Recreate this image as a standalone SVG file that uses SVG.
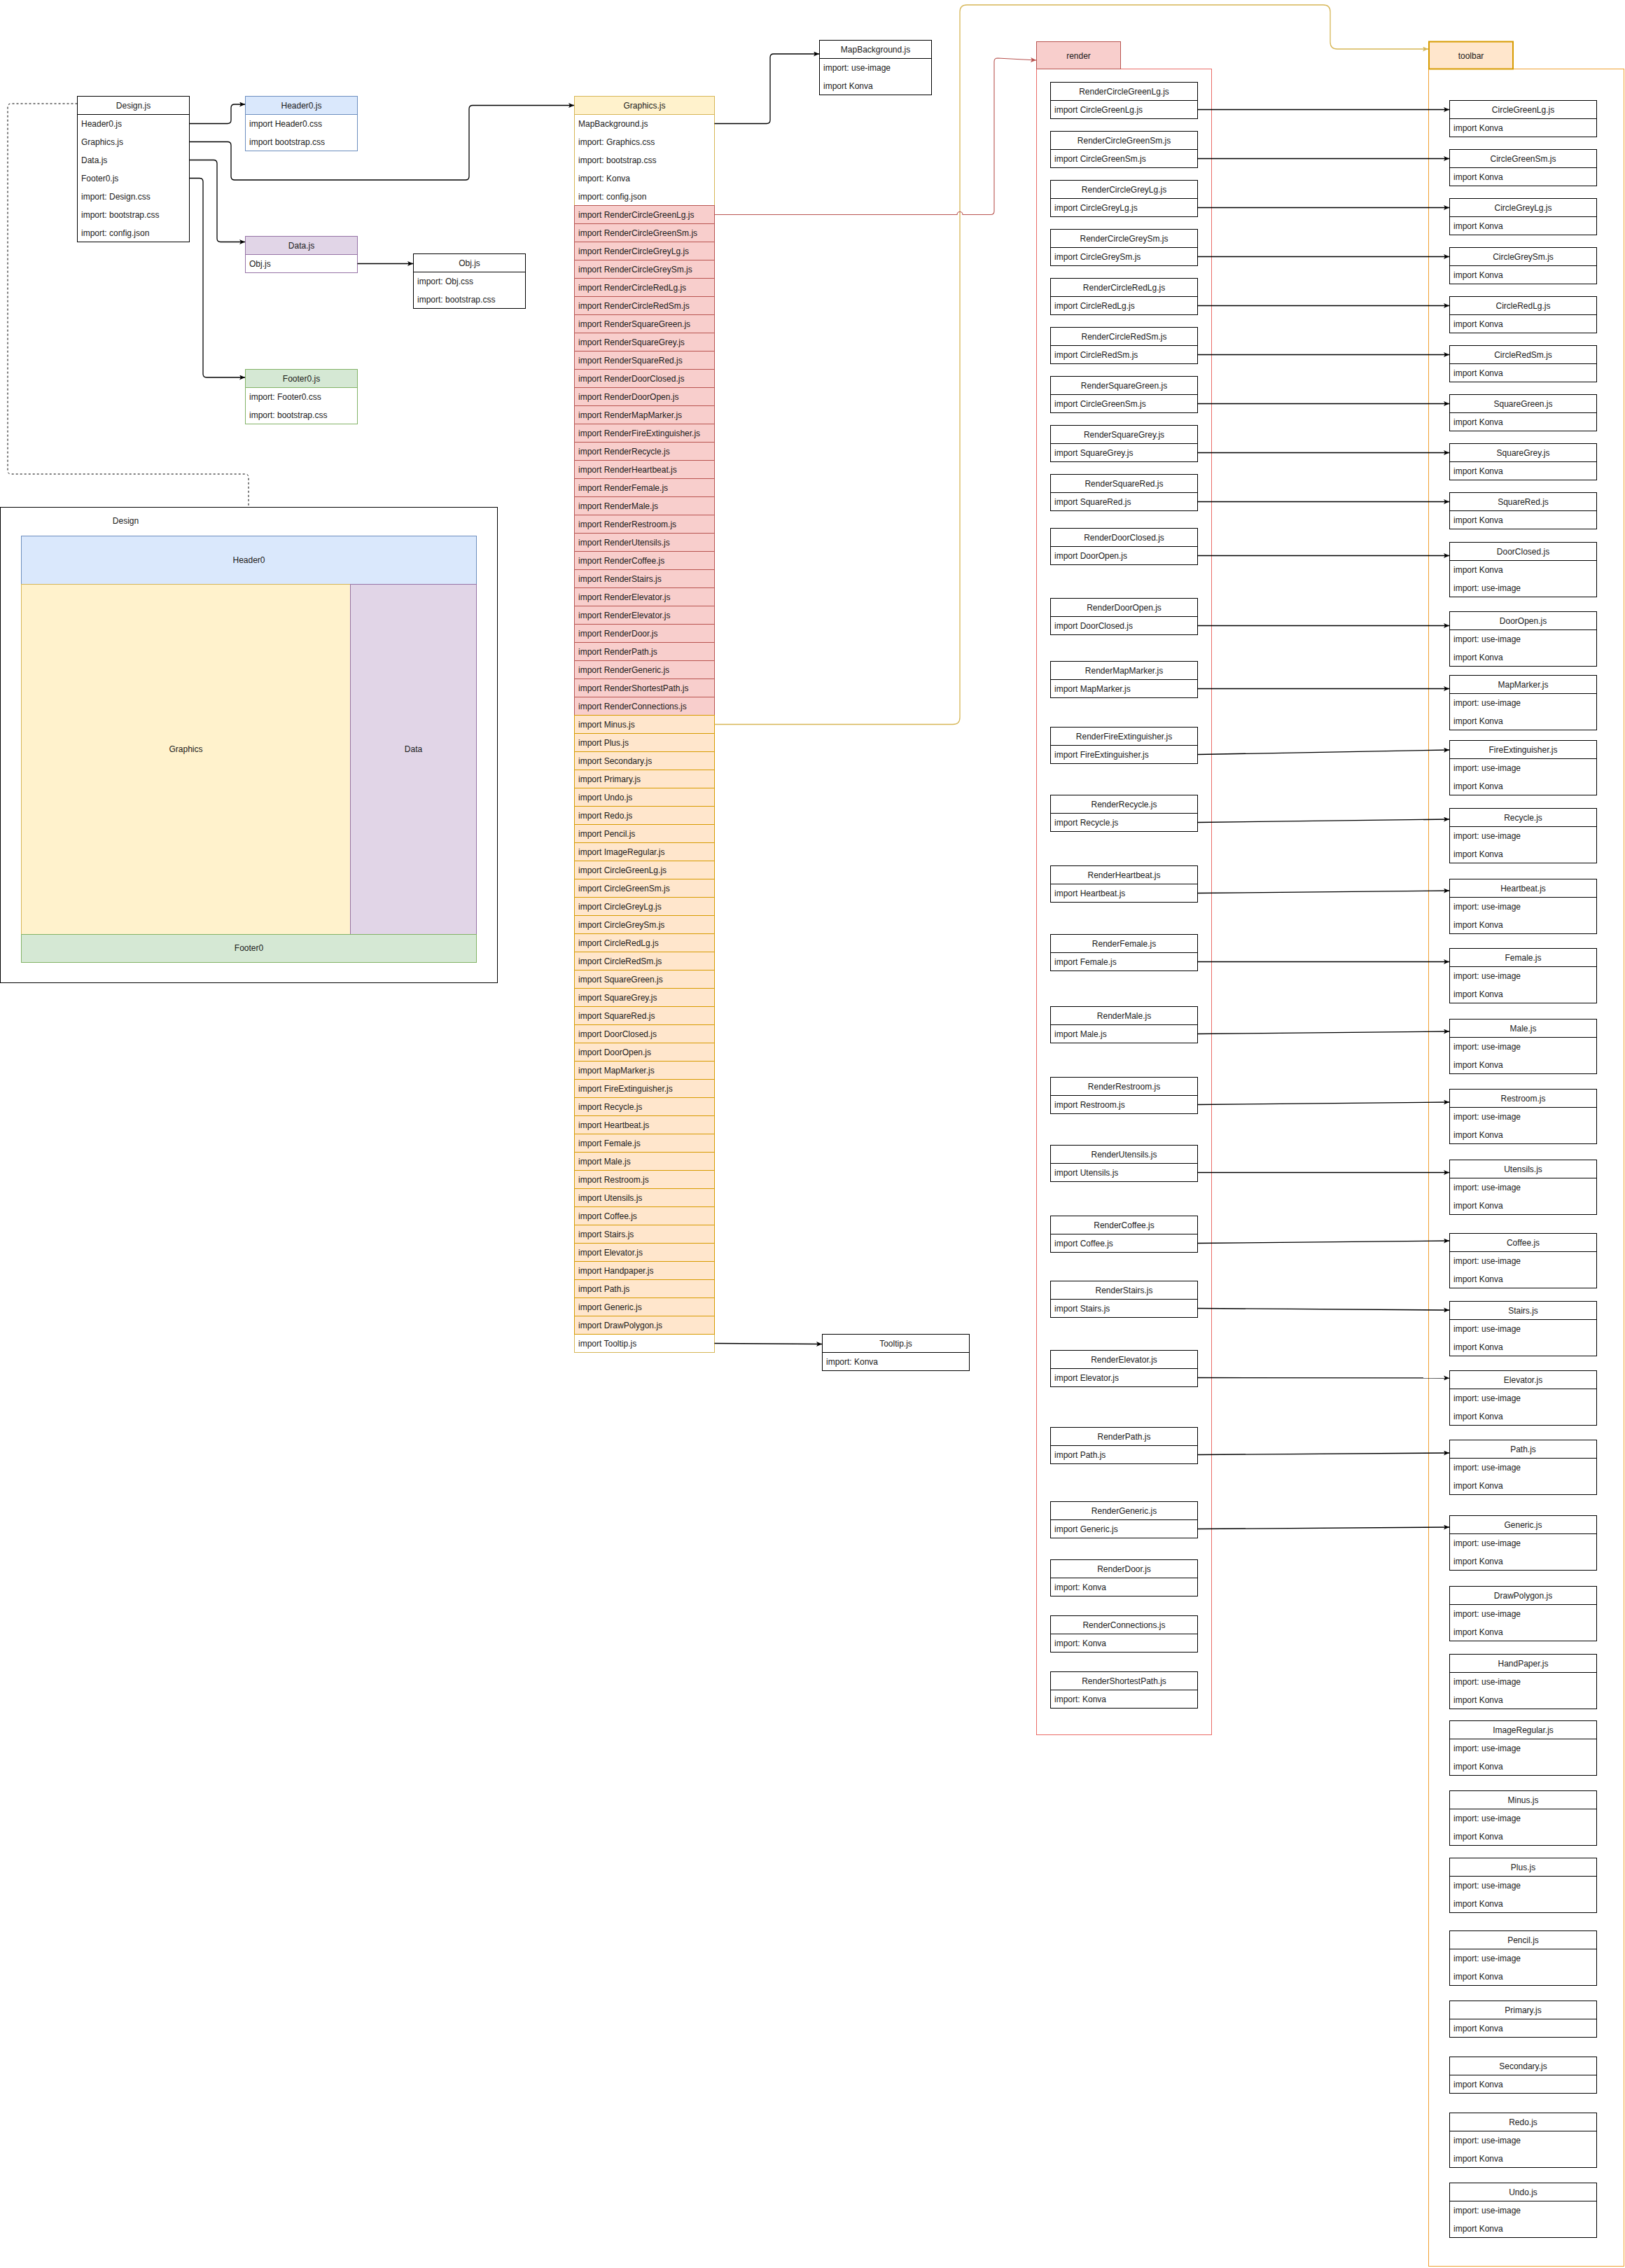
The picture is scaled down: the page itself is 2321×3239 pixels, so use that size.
<svg xmlns="http://www.w3.org/2000/svg" width="2321" height="3239" viewBox="0 0 2321 3239">
<style>
text{font-family:"Liberation Sans",Arial,sans-serif;font-size:12px;fill:#1a1a1a}
.m{text-anchor:middle}
.b{fill:#fff;stroke:#000;stroke-width:1}
.l{stroke:#000;stroke-width:1}
.rr{fill:#f8cecc;stroke:#b85450;stroke-width:1}
.ro{fill:#ffe6cc;stroke:#d79b00;stroke-width:1}
.e{fill:none;stroke:#000;stroke-width:1.3}
.ey{fill:none;stroke:#d6b656;stroke-width:1.3}
.er{fill:none;stroke:#b85450;stroke-width:1.1}
.ed{fill:none;stroke:#000;stroke-width:1;stroke-dasharray:3 3}
</style>
<defs>
<marker id="ak" viewBox="0 0 8 7" refX="8" refY="3.5" markerWidth="8" markerHeight="7" markerUnits="userSpaceOnUse" orient="auto"><path d="M0,0 L8,3.5 L0,7 L2,3.5 Z" fill="#000"/></marker>
<marker id="ar" viewBox="0 0 8 7" refX="8" refY="3.5" markerWidth="8" markerHeight="7" markerUnits="userSpaceOnUse" orient="auto"><path d="M0,0 L8,3.5 L0,7 L2,3.5 Z" fill="#b85450"/></marker>
<marker id="ay" viewBox="0 0 8 7" refX="8" refY="3.5" markerWidth="8" markerHeight="7" markerUnits="userSpaceOnUse" orient="auto"><path d="M0,0 L8,3.5 L0,7 L2,3.5 Z" fill="#d6b656"/></marker>
</defs>
<rect width="2321" height="3239" fill="#fff"/>

<!-- containers -->
<g id="render-container">
<rect x="1480.5" y="98.5" width="250" height="2379" fill="none" stroke="#ea6b66"/>
<rect x="1480.5" y="59.5" width="120" height="39" class="rr"/>
<text class="m" x="1540.5" y="83.5">render</text>
</g>
<g id="toolbar-container">
<rect x="2040.5" y="98.5" width="279" height="3138" fill="none" stroke="#f0a030"/>
<rect x="2041" y="59.5" width="120" height="39" fill="#ffe6cc" stroke="#d79b00" stroke-width="2"/>
<text class="m" x="2101" y="83.5">toolbar</text>
</g>

<!-- Design layout -->
<g id="design-layout">
<rect x="0.5" y="724.5" width="710" height="679" class="b"/>
<text class="m" x="179.5" y="748">Design</text>
<rect x="30.5" y="765.5" width="650" height="69" fill="#dae8fc" stroke="#6c8ebf"/>
<text class="m" x="355.5" y="804">Header0</text>
<rect x="30.5" y="834.5" width="470" height="500" fill="#fff2cc" stroke="#d6b656"/>
<text class="m" x="265.5" y="1074">Graphics</text>
<rect x="500.5" y="834.5" width="180" height="500" fill="#e1d5e7" stroke="#9673a6"/>
<text class="m" x="590.5" y="1074">Data</text>
<rect x="30.5" y="1334.5" width="650" height="40" fill="#d5e8d4" stroke="#82b366"/>
<text class="m" x="355.5" y="1358">Footer0</text>
</g>

<!-- Design.js -->
<g id="design-js">
<rect x="110.5" y="137.5" width="160" height="208" class="b"/>
<line x1="110.5" y1="163.5" x2="270.5" y2="163.5" class="l"/>
<text class="m" x="190.5" y="154.5">Design.js</text>
<text x="116" y="180.5">Header0.js</text>
<text x="116" y="206.5">Graphics.js</text>
<text x="116" y="232.5">Data.js</text>
<text x="116" y="258.5">Footer0.js</text>
<text x="116" y="284.5">import: Design.css</text>
<text x="116" y="310.5">import: bootstrap.css</text>
<text x="116" y="336.5">import: config.json</text>
</g>
<g id="header0-js">
<rect x="350.5" y="137.5" width="160" height="78" fill="#fff" stroke="#6c8ebf"/>
<rect x="350.5" y="137.5" width="160" height="26" fill="#dae8fc" stroke="#6c8ebf"/>
<text class="m" x="430.5" y="154.5">Header0.js</text>
<text x="356" y="180.5">import Header0.css</text>
<text x="356" y="206.5">import bootstrap.css</text>
</g>
<g id="data-js">
<rect x="350.5" y="337.5" width="160" height="52" fill="#fff" stroke="#9673a6"/>
<rect x="350.5" y="337.5" width="160" height="26" fill="#e1d5e7" stroke="#9673a6"/>
<text class="m" x="430.5" y="354.5">Data.js</text>
<text x="356" y="380.5">Obj.js</text>
</g>
<g id="obj-js">
<rect x="590.5" y="362.5" width="160" height="78" class="b"/>
<line x1="590.5" y1="388.5" x2="750.5" y2="388.5" class="l"/>
<text class="m" x="670.5" y="379.5">Obj.js</text>
<text x="596" y="405.5">import: Obj.css</text>
<text x="596" y="431.5">import: bootstrap.css</text>
</g>
<g id="footer0-js">
<rect x="350.5" y="527.5" width="160" height="78" fill="#fff" stroke="#82b366"/>
<rect x="350.5" y="527.5" width="160" height="26" fill="#d5e8d4" stroke="#82b366"/>
<text class="m" x="430.5" y="544.5">Footer0.js</text>
<text x="356" y="570.5">import: Footer0.css</text>
<text x="356" y="596.5">import: bootstrap.css</text>
</g>
<g id="mapbackground-js">
<rect x="1170.5" y="57.5" width="160" height="78" class="b"/>
<line x1="1170.5" y1="83.5" x2="1330.5" y2="83.5" class="l"/>
<text class="m" x="1250.5" y="74.5">MapBackground.js</text>
<text x="1176" y="100.5">import: use-image</text>
<text x="1176" y="126.5">import Konva</text>
</g>
<g id="tooltip-js">
<rect x="1174.5" y="1905.5" width="210" height="52" class="b"/>
<line x1="1174.5" y1="1931.5" x2="1384.5" y2="1931.5" class="l"/>
<text class="m" x="1279.5" y="1922.5">Tooltip.js</text>
<text x="1180" y="1948.5">import: Konva</text>
</g>

<!-- Graphics.js -->
<g id="graphics-js">
<rect x="820.5" y="137.5" width="200" height="1794" fill="#fff" stroke="#d6b656"/>
<rect x="820.5" y="137.5" width="200" height="26" fill="#fff2cc" stroke="#d6b656"/>
<text class="m" x="920.5" y="154.5">Graphics.js</text>
<text x="826" y="180.5">MapBackground.js</text>
<text x="826" y="206.5">import: Graphics.css</text>
<text x="826" y="232.5">import: bootstrap.css</text>
<text x="826" y="258.5">import: Konva</text>
<text x="826" y="284.5">import: config.json</text>
<g>
<rect x="820.5" y="293.5" width="200" height="26" class="rr"/><text x="826" y="310.5">import RenderCircleGreenLg.js</text>
<rect x="820.5" y="319.5" width="200" height="26" class="rr"/><text x="826" y="336.5">import RenderCircleGreenSm.js</text>
<rect x="820.5" y="345.5" width="200" height="26" class="rr"/><text x="826" y="362.5">import RenderCircleGreyLg.js</text>
<rect x="820.5" y="371.5" width="200" height="26" class="rr"/><text x="826" y="388.5">import RenderCircleGreySm.js</text>
<rect x="820.5" y="397.5" width="200" height="26" class="rr"/><text x="826" y="414.5">import RenderCircleRedLg.js</text>
<rect x="820.5" y="423.5" width="200" height="26" class="rr"/><text x="826" y="440.5">import RenderCircleRedSm.js</text>
<rect x="820.5" y="449.5" width="200" height="26" class="rr"/><text x="826" y="466.5">import RenderSquareGreen.js</text>
<rect x="820.5" y="475.5" width="200" height="26" class="rr"/><text x="826" y="492.5">import RenderSquareGrey.js</text>
<rect x="820.5" y="501.5" width="200" height="26" class="rr"/><text x="826" y="518.5">import RenderSquareRed.js</text>
<rect x="820.5" y="527.5" width="200" height="26" class="rr"/><text x="826" y="544.5">import RenderDoorClosed.js</text>
<rect x="820.5" y="553.5" width="200" height="26" class="rr"/><text x="826" y="570.5">import RenderDoorOpen.js</text>
<rect x="820.5" y="579.5" width="200" height="26" class="rr"/><text x="826" y="596.5">import RenderMapMarker.js</text>
<rect x="820.5" y="605.5" width="200" height="26" class="rr"/><text x="826" y="622.5">import RenderFireExtinguisher.js</text>
<rect x="820.5" y="631.5" width="200" height="26" class="rr"/><text x="826" y="648.5">import RenderRecycle.js</text>
<rect x="820.5" y="657.5" width="200" height="26" class="rr"/><text x="826" y="674.5">import RenderHeartbeat.js</text>
<rect x="820.5" y="683.5" width="200" height="26" class="rr"/><text x="826" y="700.5">import RenderFemale.js</text>
<rect x="820.5" y="709.5" width="200" height="26" class="rr"/><text x="826" y="726.5">import RenderMale.js</text>
<rect x="820.5" y="735.5" width="200" height="26" class="rr"/><text x="826" y="752.5">import RenderRestroom.js</text>
<rect x="820.5" y="761.5" width="200" height="26" class="rr"/><text x="826" y="778.5">import RenderUtensils.js</text>
<rect x="820.5" y="787.5" width="200" height="26" class="rr"/><text x="826" y="804.5">import RenderCoffee.js</text>
<rect x="820.5" y="813.5" width="200" height="26" class="rr"/><text x="826" y="830.5">import RenderStairs.js</text>
<rect x="820.5" y="839.5" width="200" height="26" class="rr"/><text x="826" y="856.5">import RenderElevator.js</text>
<rect x="820.5" y="865.5" width="200" height="26" class="rr"/><text x="826" y="882.5">import RenderElevator.js</text>
<rect x="820.5" y="891.5" width="200" height="26" class="rr"/><text x="826" y="908.5">import RenderDoor.js</text>
<rect x="820.5" y="917.5" width="200" height="26" class="rr"/><text x="826" y="934.5">import RenderPath.js</text>
<rect x="820.5" y="943.5" width="200" height="26" class="rr"/><text x="826" y="960.5">import RenderGeneric.js</text>
<rect x="820.5" y="969.5" width="200" height="26" class="rr"/><text x="826" y="986.5">import RenderShortestPath.js</text>
<rect x="820.5" y="995.5" width="200" height="26" class="rr"/><text x="826" y="1012.5">import RenderConnections.js</text>
</g>
<g>
<rect x="820.5" y="1021.5" width="200" height="26" class="ro"/><text x="826" y="1038.5">import Minus.js</text>
<rect x="820.5" y="1047.5" width="200" height="26" class="ro"/><text x="826" y="1064.5">import Plus.js</text>
<rect x="820.5" y="1073.5" width="200" height="26" class="ro"/><text x="826" y="1090.5">import Secondary.js</text>
<rect x="820.5" y="1099.5" width="200" height="26" class="ro"/><text x="826" y="1116.5">import Primary.js</text>
<rect x="820.5" y="1125.5" width="200" height="26" class="ro"/><text x="826" y="1142.5">import Undo.js</text>
<rect x="820.5" y="1151.5" width="200" height="26" class="ro"/><text x="826" y="1168.5">import Redo.js</text>
<rect x="820.5" y="1177.5" width="200" height="26" class="ro"/><text x="826" y="1194.5">import Pencil.js</text>
<rect x="820.5" y="1203.5" width="200" height="26" class="ro"/><text x="826" y="1220.5">import ImageRegular.js</text>
<rect x="820.5" y="1229.5" width="200" height="26" class="ro"/><text x="826" y="1246.5">import CircleGreenLg.js</text>
<rect x="820.5" y="1255.5" width="200" height="26" class="ro"/><text x="826" y="1272.5">import CircleGreenSm.js</text>
<rect x="820.5" y="1281.5" width="200" height="26" class="ro"/><text x="826" y="1298.5">import CircleGreyLg.js</text>
<rect x="820.5" y="1307.5" width="200" height="26" class="ro"/><text x="826" y="1324.5">import CircleGreySm.js</text>
<rect x="820.5" y="1333.5" width="200" height="26" class="ro"/><text x="826" y="1350.5">import CircleRedLg.js</text>
<rect x="820.5" y="1359.5" width="200" height="26" class="ro"/><text x="826" y="1376.5">import CircleRedSm.js</text>
<rect x="820.5" y="1385.5" width="200" height="26" class="ro"/><text x="826" y="1402.5">import SquareGreen.js</text>
<rect x="820.5" y="1411.5" width="200" height="26" class="ro"/><text x="826" y="1428.5">import SquareGrey.js</text>
<rect x="820.5" y="1437.5" width="200" height="26" class="ro"/><text x="826" y="1454.5">import SquareRed.js</text>
<rect x="820.5" y="1463.5" width="200" height="26" class="ro"/><text x="826" y="1480.5">import DoorClosed.js</text>
<rect x="820.5" y="1489.5" width="200" height="26" class="ro"/><text x="826" y="1506.5">import DoorOpen.js</text>
<rect x="820.5" y="1515.5" width="200" height="26" class="ro"/><text x="826" y="1532.5">import MapMarker.js</text>
<rect x="820.5" y="1541.5" width="200" height="26" class="ro"/><text x="826" y="1558.5">import FireExtinguisher.js</text>
<rect x="820.5" y="1567.5" width="200" height="26" class="ro"/><text x="826" y="1584.5">import Recycle.js</text>
<rect x="820.5" y="1593.5" width="200" height="26" class="ro"/><text x="826" y="1610.5">import Heartbeat.js</text>
<rect x="820.5" y="1619.5" width="200" height="26" class="ro"/><text x="826" y="1636.5">import Female.js</text>
<rect x="820.5" y="1645.5" width="200" height="26" class="ro"/><text x="826" y="1662.5">import Male.js</text>
<rect x="820.5" y="1671.5" width="200" height="26" class="ro"/><text x="826" y="1688.5">import Restroom.js</text>
<rect x="820.5" y="1697.5" width="200" height="26" class="ro"/><text x="826" y="1714.5">import Utensils.js</text>
<rect x="820.5" y="1723.5" width="200" height="26" class="ro"/><text x="826" y="1740.5">import Coffee.js</text>
<rect x="820.5" y="1749.5" width="200" height="26" class="ro"/><text x="826" y="1766.5">import Stairs.js</text>
<rect x="820.5" y="1775.5" width="200" height="26" class="ro"/><text x="826" y="1792.5">import Elevator.js</text>
<rect x="820.5" y="1801.5" width="200" height="26" class="ro"/><text x="826" y="1818.5">import Handpaper.js</text>
<rect x="820.5" y="1827.5" width="200" height="26" class="ro"/><text x="826" y="1844.5">import Path.js</text>
<rect x="820.5" y="1853.5" width="200" height="26" class="ro"/><text x="826" y="1870.5">import Generic.js</text>
<rect x="820.5" y="1879.5" width="200" height="26" class="ro"/><text x="826" y="1896.5">import DrawPolygon.js</text>
</g>
<text x="826" y="1922.5">import Tooltip.js</text>
</g>

<!-- render boxes -->
<g id="render-nodes">
<g id="r1"><rect x="1500.5" y="117.5" width="210" height="52" class="b"/><line x1="1500.5" y1="143.5" x2="1710.5" y2="143.5" class="l"/><text class="m" x="1605.5" y="134.5">RenderCircleGreenLg.js</text><text x="1506" y="160.5">import CircleGreenLg.js</text></g>
<g id="r2"><rect x="1500.5" y="187.5" width="210" height="52" class="b"/><line x1="1500.5" y1="213.5" x2="1710.5" y2="213.5" class="l"/><text class="m" x="1605.5" y="204.5">RenderCircleGreenSm.js</text><text x="1506" y="230.5">import CircleGreenSm.js</text></g>
<g id="r3"><rect x="1500.5" y="257.5" width="210" height="52" class="b"/><line x1="1500.5" y1="283.5" x2="1710.5" y2="283.5" class="l"/><text class="m" x="1605.5" y="274.5">RenderCircleGreyLg.js</text><text x="1506" y="300.5">import CircleGreyLg.js</text></g>
<g id="r4"><rect x="1500.5" y="327.5" width="210" height="52" class="b"/><line x1="1500.5" y1="353.5" x2="1710.5" y2="353.5" class="l"/><text class="m" x="1605.5" y="344.5">RenderCircleGreySm.js</text><text x="1506" y="370.5">import CircleGreySm.js</text></g>
<g id="r5"><rect x="1500.5" y="397.5" width="210" height="52" class="b"/><line x1="1500.5" y1="423.5" x2="1710.5" y2="423.5" class="l"/><text class="m" x="1605.5" y="414.5">RenderCircleRedLg.js</text><text x="1506" y="440.5">import CircleRedLg.js</text></g>
<g id="r6"><rect x="1500.5" y="467.5" width="210" height="52" class="b"/><line x1="1500.5" y1="493.5" x2="1710.5" y2="493.5" class="l"/><text class="m" x="1605.5" y="484.5">RenderCircleRedSm.js</text><text x="1506" y="510.5">import CircleRedSm.js</text></g>
<g id="r7"><rect x="1500.5" y="537.5" width="210" height="52" class="b"/><line x1="1500.5" y1="563.5" x2="1710.5" y2="563.5" class="l"/><text class="m" x="1605.5" y="554.5">RenderSquareGreen.js</text><text x="1506" y="580.5">import CircleGreenSm.js</text></g>
<g id="r8"><rect x="1500.5" y="607.5" width="210" height="52" class="b"/><line x1="1500.5" y1="633.5" x2="1710.5" y2="633.5" class="l"/><text class="m" x="1605.5" y="624.5">RenderSquareGrey.js</text><text x="1506" y="650.5">import SquareGrey.js</text></g>
<g id="r9"><rect x="1500.5" y="677.5" width="210" height="52" class="b"/><line x1="1500.5" y1="703.5" x2="1710.5" y2="703.5" class="l"/><text class="m" x="1605.5" y="694.5">RenderSquareRed.js</text><text x="1506" y="720.5">import SquareRed.js</text></g>
<g id="r10"><rect x="1500.5" y="754.5" width="210" height="52" class="b"/><line x1="1500.5" y1="780.5" x2="1710.5" y2="780.5" class="l"/><text class="m" x="1605.5" y="771.5">RenderDoorClosed.js</text><text x="1506" y="797.5">import DoorOpen.js</text></g>
<g id="r11"><rect x="1500.5" y="854.5" width="210" height="52" class="b"/><line x1="1500.5" y1="880.5" x2="1710.5" y2="880.5" class="l"/><text class="m" x="1605.5" y="871.5">RenderDoorOpen.js</text><text x="1506" y="897.5">import DoorClosed.js</text></g>
<g id="r12"><rect x="1500.5" y="944.5" width="210" height="52" class="b"/><line x1="1500.5" y1="970.5" x2="1710.5" y2="970.5" class="l"/><text class="m" x="1605.5" y="961.5">RenderMapMarker.js</text><text x="1506" y="987.5">import MapMarker.js</text></g>
<g id="r13"><rect x="1500.5" y="1038.5" width="210" height="52" class="b"/><line x1="1500.5" y1="1064.5" x2="1710.5" y2="1064.5" class="l"/><text class="m" x="1605.5" y="1055.5">RenderFireExtinguisher.js</text><text x="1506" y="1081.5">import FireExtinguisher.js</text></g>
<g id="r14"><rect x="1500.5" y="1135.5" width="210" height="52" class="b"/><line x1="1500.5" y1="1161.5" x2="1710.5" y2="1161.5" class="l"/><text class="m" x="1605.5" y="1152.5">RenderRecycle.js</text><text x="1506" y="1178.5">import Recycle.js</text></g>
<g id="r15"><rect x="1500.5" y="1236.5" width="210" height="52" class="b"/><line x1="1500.5" y1="1262.5" x2="1710.5" y2="1262.5" class="l"/><text class="m" x="1605.5" y="1253.5">RenderHeartbeat.js</text><text x="1506" y="1279.5">import Heartbeat.js</text></g>
<g id="r16"><rect x="1500.5" y="1334.5" width="210" height="52" class="b"/><line x1="1500.5" y1="1360.5" x2="1710.5" y2="1360.5" class="l"/><text class="m" x="1605.5" y="1351.5">RenderFemale.js</text><text x="1506" y="1377.5">import Female.js</text></g>
<g id="r17"><rect x="1500.5" y="1437.5" width="210" height="52" class="b"/><line x1="1500.5" y1="1463.5" x2="1710.5" y2="1463.5" class="l"/><text class="m" x="1605.5" y="1454.5">RenderMale.js</text><text x="1506" y="1480.5">import Male.js</text></g>
<g id="r18"><rect x="1500.5" y="1538.5" width="210" height="52" class="b"/><line x1="1500.5" y1="1564.5" x2="1710.5" y2="1564.5" class="l"/><text class="m" x="1605.5" y="1555.5">RenderRestroom.js</text><text x="1506" y="1581.5">import Restroom.js</text></g>
<g id="r19"><rect x="1500.5" y="1635.5" width="210" height="52" class="b"/><line x1="1500.5" y1="1661.5" x2="1710.5" y2="1661.5" class="l"/><text class="m" x="1605.5" y="1652.5">RenderUtensils.js</text><text x="1506" y="1678.5">import Utensils.js</text></g>
<g id="r20"><rect x="1500.5" y="1736.5" width="210" height="52" class="b"/><line x1="1500.5" y1="1762.5" x2="1710.5" y2="1762.5" class="l"/><text class="m" x="1605.5" y="1753.5">RenderCoffee.js</text><text x="1506" y="1779.5">import Coffee.js</text></g>
<g id="r21"><rect x="1500.5" y="1829.5" width="210" height="52" class="b"/><line x1="1500.5" y1="1855.5" x2="1710.5" y2="1855.5" class="l"/><text class="m" x="1605.5" y="1846.5">RenderStairs.js</text><text x="1506" y="1872.5">import Stairs.js</text></g>
<g id="r22"><rect x="1500.5" y="1928.5" width="210" height="52" class="b"/><line x1="1500.5" y1="1954.5" x2="1710.5" y2="1954.5" class="l"/><text class="m" x="1605.5" y="1945.5">RenderElevator.js</text><text x="1506" y="1971.5">import Elevator.js</text></g>
<g id="r23"><rect x="1500.5" y="2038.5" width="210" height="52" class="b"/><line x1="1500.5" y1="2064.5" x2="1710.5" y2="2064.5" class="l"/><text class="m" x="1605.5" y="2055.5">RenderPath.js</text><text x="1506" y="2081.5">import Path.js</text></g>
<g id="r24"><rect x="1500.5" y="2144.5" width="210" height="52" class="b"/><line x1="1500.5" y1="2170.5" x2="1710.5" y2="2170.5" class="l"/><text class="m" x="1605.5" y="2161.5">RenderGeneric.js</text><text x="1506" y="2187.5">import Generic.js</text></g>
<g id="r25"><rect x="1500.5" y="2227.5" width="210" height="52" class="b"/><line x1="1500.5" y1="2253.5" x2="1710.5" y2="2253.5" class="l"/><text class="m" x="1605.5" y="2244.5">RenderDoor.js</text><text x="1506" y="2270.5">import: Konva</text></g>
<g id="r26"><rect x="1500.5" y="2307.5" width="210" height="52" class="b"/><line x1="1500.5" y1="2333.5" x2="1710.5" y2="2333.5" class="l"/><text class="m" x="1605.5" y="2324.5">RenderConnections.js</text><text x="1506" y="2350.5">import: Konva</text></g>
<g id="r27"><rect x="1500.5" y="2387.5" width="210" height="52" class="b"/><line x1="1500.5" y1="2413.5" x2="1710.5" y2="2413.5" class="l"/><text class="m" x="1605.5" y="2404.5">RenderShortestPath.js</text><text x="1506" y="2430.5">import: Konva</text></g>
</g>

<!-- toolbar boxes -->
<g id="toolbar-nodes">
<g id="t1"><rect x="2070.5" y="143.5" width="210" height="52" class="b"/><line x1="2070.5" y1="169.5" x2="2280.5" y2="169.5" class="l"/><text class="m" x="2175.5" y="160.5">CircleGreenLg.js</text><text x="2076" y="186.5">import Konva</text></g>
<g id="t2"><rect x="2070.5" y="213.5" width="210" height="52" class="b"/><line x1="2070.5" y1="239.5" x2="2280.5" y2="239.5" class="l"/><text class="m" x="2175.5" y="230.5">CircleGreenSm.js</text><text x="2076" y="256.5">import Konva</text></g>
<g id="t3"><rect x="2070.5" y="283.5" width="210" height="52" class="b"/><line x1="2070.5" y1="309.5" x2="2280.5" y2="309.5" class="l"/><text class="m" x="2175.5" y="300.5">CircleGreyLg.js</text><text x="2076" y="326.5">import Konva</text></g>
<g id="t4"><rect x="2070.5" y="353.5" width="210" height="52" class="b"/><line x1="2070.5" y1="379.5" x2="2280.5" y2="379.5" class="l"/><text class="m" x="2175.5" y="370.5">CircleGreySm.js</text><text x="2076" y="396.5">import Konva</text></g>
<g id="t5"><rect x="2070.5" y="423.5" width="210" height="52" class="b"/><line x1="2070.5" y1="449.5" x2="2280.5" y2="449.5" class="l"/><text class="m" x="2175.5" y="440.5">CircleRedLg.js</text><text x="2076" y="466.5">import Konva</text></g>
<g id="t6"><rect x="2070.5" y="493.5" width="210" height="52" class="b"/><line x1="2070.5" y1="519.5" x2="2280.5" y2="519.5" class="l"/><text class="m" x="2175.5" y="510.5">CircleRedSm.js</text><text x="2076" y="536.5">import Konva</text></g>
<g id="t7"><rect x="2070.5" y="563.5" width="210" height="52" class="b"/><line x1="2070.5" y1="589.5" x2="2280.5" y2="589.5" class="l"/><text class="m" x="2175.5" y="580.5">SquareGreen.js</text><text x="2076" y="606.5">import Konva</text></g>
<g id="t8"><rect x="2070.5" y="633.5" width="210" height="52" class="b"/><line x1="2070.5" y1="659.5" x2="2280.5" y2="659.5" class="l"/><text class="m" x="2175.5" y="650.5">SquareGrey.js</text><text x="2076" y="676.5">import Konva</text></g>
<g id="t9"><rect x="2070.5" y="703.5" width="210" height="52" class="b"/><line x1="2070.5" y1="729.5" x2="2280.5" y2="729.5" class="l"/><text class="m" x="2175.5" y="720.5">SquareRed.js</text><text x="2076" y="746.5">import Konva</text></g>
<g id="t10"><rect x="2070.5" y="774.5" width="210" height="78" class="b"/><line x1="2070.5" y1="800.5" x2="2280.5" y2="800.5" class="l"/><text class="m" x="2175.5" y="791.5">DoorClosed.js</text><text x="2076" y="817.5">import Konva</text><text x="2076" y="843.5">import: use-image</text></g>
<g id="t11"><rect x="2070.5" y="873.5" width="210" height="78" class="b"/><line x1="2070.5" y1="899.5" x2="2280.5" y2="899.5" class="l"/><text class="m" x="2175.5" y="890.5">DoorOpen.js</text><text x="2076" y="916.5">import: use-image</text><text x="2076" y="942.5">import Konva</text></g>
<g id="t12"><rect x="2070.5" y="964.5" width="210" height="78" class="b"/><line x1="2070.5" y1="990.5" x2="2280.5" y2="990.5" class="l"/><text class="m" x="2175.5" y="981.5">MapMarker.js</text><text x="2076" y="1007.5">import: use-image</text><text x="2076" y="1033.5">import Konva</text></g>
<g id="t13"><rect x="2070.5" y="1057.5" width="210" height="78" class="b"/><line x1="2070.5" y1="1083.5" x2="2280.5" y2="1083.5" class="l"/><text class="m" x="2175.5" y="1074.5">FireExtinguisher.js</text><text x="2076" y="1100.5">import: use-image</text><text x="2076" y="1126.5">import Konva</text></g>
<g id="t14"><rect x="2070.5" y="1154.5" width="210" height="78" class="b"/><line x1="2070.5" y1="1180.5" x2="2280.5" y2="1180.5" class="l"/><text class="m" x="2175.5" y="1171.5">Recycle.js</text><text x="2076" y="1197.5">import: use-image</text><text x="2076" y="1223.5">import Konva</text></g>
<g id="t15"><rect x="2070.5" y="1255.5" width="210" height="78" class="b"/><line x1="2070.5" y1="1281.5" x2="2280.5" y2="1281.5" class="l"/><text class="m" x="2175.5" y="1272.5">Heartbeat.js</text><text x="2076" y="1298.5">import: use-image</text><text x="2076" y="1324.5">import Konva</text></g>
<g id="t16"><rect x="2070.5" y="1354.5" width="210" height="78" class="b"/><line x1="2070.5" y1="1380.5" x2="2280.5" y2="1380.5" class="l"/><text class="m" x="2175.5" y="1371.5">Female.js</text><text x="2076" y="1397.5">import: use-image</text><text x="2076" y="1423.5">import Konva</text></g>
<g id="t17"><rect x="2070.5" y="1455.5" width="210" height="78" class="b"/><line x1="2070.5" y1="1481.5" x2="2280.5" y2="1481.5" class="l"/><text class="m" x="2175.5" y="1472.5">Male.js</text><text x="2076" y="1498.5">import: use-image</text><text x="2076" y="1524.5">import Konva</text></g>
<g id="t18"><rect x="2070.5" y="1555.5" width="210" height="78" class="b"/><line x1="2070.5" y1="1581.5" x2="2280.5" y2="1581.5" class="l"/><text class="m" x="2175.5" y="1572.5">Restroom.js</text><text x="2076" y="1598.5">import: use-image</text><text x="2076" y="1624.5">import Konva</text></g>
<g id="t19"><rect x="2070.5" y="1656.5" width="210" height="78" class="b"/><line x1="2070.5" y1="1682.5" x2="2280.5" y2="1682.5" class="l"/><text class="m" x="2175.5" y="1673.5">Utensils.js</text><text x="2076" y="1699.5">import: use-image</text><text x="2076" y="1725.5">import Konva</text></g>
<g id="t20"><rect x="2070.5" y="1761.5" width="210" height="78" class="b"/><line x1="2070.5" y1="1787.5" x2="2280.5" y2="1787.5" class="l"/><text class="m" x="2175.5" y="1778.5">Coffee.js</text><text x="2076" y="1804.5">import: use-image</text><text x="2076" y="1830.5">import Konva</text></g>
<g id="t21"><rect x="2070.5" y="1858.5" width="210" height="78" class="b"/><line x1="2070.5" y1="1884.5" x2="2280.5" y2="1884.5" class="l"/><text class="m" x="2175.5" y="1875.5">Stairs.js</text><text x="2076" y="1901.5">import: use-image</text><text x="2076" y="1927.5">import Konva</text></g>
<g id="t22"><rect x="2070.5" y="1957.5" width="210" height="78" class="b"/><line x1="2070.5" y1="1983.5" x2="2280.5" y2="1983.5" class="l"/><text class="m" x="2175.5" y="1974.5">Elevator.js</text><text x="2076" y="2000.5">import: use-image</text><text x="2076" y="2026.5">import Konva</text></g>
<g id="t23"><rect x="2070.5" y="2056.5" width="210" height="78" class="b"/><line x1="2070.5" y1="2082.5" x2="2280.5" y2="2082.5" class="l"/><text class="m" x="2175.5" y="2073.5">Path.js</text><text x="2076" y="2099.5">import: use-image</text><text x="2076" y="2125.5">import Konva</text></g>
<g id="t24"><rect x="2070.5" y="2164.5" width="210" height="78" class="b"/><line x1="2070.5" y1="2190.5" x2="2280.5" y2="2190.5" class="l"/><text class="m" x="2175.5" y="2181.5">Generic.js</text><text x="2076" y="2207.5">import: use-image</text><text x="2076" y="2233.5">import Konva</text></g>
<g id="t25"><rect x="2070.5" y="2265.5" width="210" height="78" class="b"/><line x1="2070.5" y1="2291.5" x2="2280.5" y2="2291.5" class="l"/><text class="m" x="2175.5" y="2282.5">DrawPolygon.js</text><text x="2076" y="2308.5">import: use-image</text><text x="2076" y="2334.5">import Konva</text></g>
<g id="t26"><rect x="2070.5" y="2362.5" width="210" height="78" class="b"/><line x1="2070.5" y1="2388.5" x2="2280.5" y2="2388.5" class="l"/><text class="m" x="2175.5" y="2379.5">HandPaper.js</text><text x="2076" y="2405.5">import: use-image</text><text x="2076" y="2431.5">import Konva</text></g>
<g id="t27"><rect x="2070.5" y="2457.5" width="210" height="78" class="b"/><line x1="2070.5" y1="2483.5" x2="2280.5" y2="2483.5" class="l"/><text class="m" x="2175.5" y="2474.5">ImageRegular.js</text><text x="2076" y="2500.5">import: use-image</text><text x="2076" y="2526.5">import Konva</text></g>
<g id="t28"><rect x="2070.5" y="2557.5" width="210" height="78" class="b"/><line x1="2070.5" y1="2583.5" x2="2280.5" y2="2583.5" class="l"/><text class="m" x="2175.5" y="2574.5">Minus.js</text><text x="2076" y="2600.5">import: use-image</text><text x="2076" y="2626.5">import Konva</text></g>
<g id="t29"><rect x="2070.5" y="2653.5" width="210" height="78" class="b"/><line x1="2070.5" y1="2679.5" x2="2280.5" y2="2679.5" class="l"/><text class="m" x="2175.5" y="2670.5">Plus.js</text><text x="2076" y="2696.5">import: use-image</text><text x="2076" y="2722.5">import Konva</text></g>
<g id="t30"><rect x="2070.5" y="2757.5" width="210" height="78" class="b"/><line x1="2070.5" y1="2783.5" x2="2280.5" y2="2783.5" class="l"/><text class="m" x="2175.5" y="2774.5">Pencil.js</text><text x="2076" y="2800.5">import: use-image</text><text x="2076" y="2826.5">import Konva</text></g>
<g id="t31"><rect x="2070.5" y="2857.5" width="210" height="52" class="b"/><line x1="2070.5" y1="2883.5" x2="2280.5" y2="2883.5" class="l"/><text class="m" x="2175.5" y="2874.5">Primary.js</text><text x="2076" y="2900.5">import Konva</text></g>
<g id="t32"><rect x="2070.5" y="2937.5" width="210" height="52" class="b"/><line x1="2070.5" y1="2963.5" x2="2280.5" y2="2963.5" class="l"/><text class="m" x="2175.5" y="2954.5">Secondary.js</text><text x="2076" y="2980.5">import Konva</text></g>
<g id="t33"><rect x="2070.5" y="3017.5" width="210" height="78" class="b"/><line x1="2070.5" y1="3043.5" x2="2280.5" y2="3043.5" class="l"/><text class="m" x="2175.5" y="3034.5">Redo.js</text><text x="2076" y="3060.5">import: use-image</text><text x="2076" y="3086.5">import Konva</text></g>
<g id="t34"><rect x="2070.5" y="3117.5" width="210" height="78" class="b"/><line x1="2070.5" y1="3143.5" x2="2280.5" y2="3143.5" class="l"/><text class="m" x="2175.5" y="3134.5">Undo.js</text><text x="2076" y="3160.5">import: use-image</text><text x="2076" y="3186.5">import Konva</text></g>
</g>

<!-- connectors -->
<g id="connectors">
<path class="ed" d="M110.5,148 H16 Q11,148 11,153 V672 Q11,677 16,677 H350 Q355,677 355,682 V724"/>
<path class="e" d="M270.5,176.5 H325 Q330,176.5 330,171.5 V154 Q330,149 335,149 H350" marker-end="url(#ak)"/>
<path class="e" d="M270.5,202.5 H325 Q330,202.5 330,207.5 V252 Q330,257 335,257 H665 Q670,257 670,252 V155.5 Q670,150.5 675,150.5 H820" marker-end="url(#ak)"/>
<path class="e" d="M270.5,228.5 H305 Q310,228.5 310,233.5 V340.5 Q310,345.5 315,345.5 H350" marker-end="url(#ak)"/>
<path class="e" d="M270.5,254.5 H285 Q290,254.5 290,259.5 V534 Q290,539 295,539 H350" marker-end="url(#ak)"/>
<path class="e" d="M510.5,376.5 H590" marker-end="url(#ak)"/>
<path class="e" d="M1020.5,176.5 H1095 Q1100,176.5 1100,171.5 V82 Q1100,77 1105,77 H1170" marker-end="url(#ak)"/>
<path class="ey" d="M1020.5,1034.5 H1361 Q1371,1034.5 1371,1024.5 V17 Q1371,7 1381,7 H1890 Q1900,7 1900,17 V60 Q1900,70 1910,70 H2040" marker-end="url(#ay)"/>
<path class="er" d="M1020.5,306.5 H1367 A4,4 0 0 1 1375,306.5 H1415 Q1420,306.5 1420,301.5 V88 Q1420,83 1425,83 L1480,86" marker-end="url(#ar)"/>
<path class="e" d="M1020.5,1918.5 L1174,1919.5" marker-end="url(#ak)"/>
<path class="e" d="M1710.5,156.5 H2070" marker-end="url(#ak)"/>
<path class="e" d="M1710.5,226.5 H2070" marker-end="url(#ak)"/>
<path class="e" d="M1710.5,296.5 H2070" marker-end="url(#ak)"/>
<path class="e" d="M1710.5,366.5 H2070" marker-end="url(#ak)"/>
<path class="e" d="M1710.5,436.5 H2070" marker-end="url(#ak)"/>
<path class="e" d="M1710.5,506.5 H2070" marker-end="url(#ak)"/>
<path class="e" d="M1710.5,576.5 H2070" marker-end="url(#ak)"/>
<path class="e" d="M1710.5,646.5 H2070" marker-end="url(#ak)"/>
<path class="e" d="M1710.5,716.5 H2070" marker-end="url(#ak)"/>
<path class="e" d="M1710.5,793.5 H2070" marker-end="url(#ak)"/>
<path class="e" d="M1710.5,893.5 H2070" marker-end="url(#ak)"/>
<path class="e" d="M1710.5,983.5 H2070" marker-end="url(#ak)"/>
<path class="e" d="M1710.5,1077.5 L2070,1071" marker-end="url(#ak)"/>
<path class="e" d="M1710.5,1174.5 L2070,1170" marker-end="url(#ak)"/>
<path class="e" d="M1710.5,1275.5 L2070,1272" marker-end="url(#ak)"/>
<path class="e" d="M1710.5,1373.5 H2070" marker-end="url(#ak)"/>
<path class="e" d="M1710.5,1476.5 L2070,1473" marker-end="url(#ak)"/>
<path class="e" d="M1710.5,1577.5 L2070,1574" marker-end="url(#ak)"/>
<path class="e" d="M1710.5,1674.5 H2070" marker-end="url(#ak)"/>
<path class="e" d="M1710.5,1775.5 L2070,1772" marker-end="url(#ak)"/>
<path class="e" d="M1710.5,1868.5 L2070,1871" marker-end="url(#ak)"/>
<path class="e" d="M1710.5,1967.5 L2070,1968" marker-end="url(#ak)"/>
<path class="e" d="M1710.5,2077.5 L2070,2075" marker-end="url(#ak)"/>
<path class="e" d="M1710.5,2183.5 L2070,2181" marker-end="url(#ak)"/>
</g>
</svg>
